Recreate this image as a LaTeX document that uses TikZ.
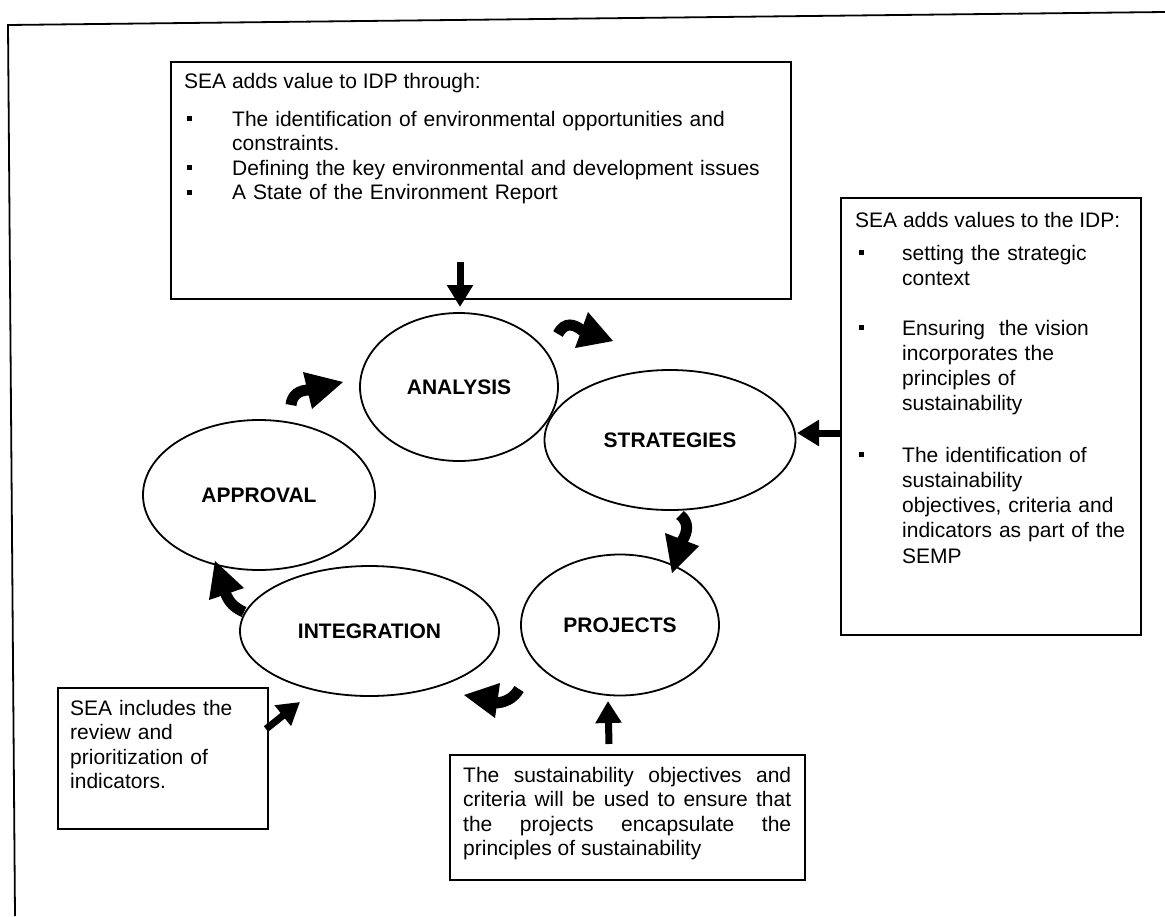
\documentclass[tikz,border=0pt]{standalone}
\usepackage{fontspec}
\setmainfont{Liberation Sans}
\usetikzlibrary{shapes.geometric,arrows.meta}
\begin{document}
\begin{tikzpicture}[x=1pt,y=-1pt,
  box/.style={draw, line width=1.8pt, rectangle, inner sep=0pt, anchor=north west},
  oval/.style={draw, line width=1.8pt, ellipse, inner sep=0pt, font=\fontsize{21}{25}\selectfont\bfseries},
  txt/.style={inner sep=0pt, anchor=base west, align=left, font=\fontsize{21}{24.5}\selectfont},
  txtr/.style={txt, font=\fontsize{21}{25.3}\selectfont},
  bul/.style={fill, rectangle, minimum size=5pt, inner sep=0pt},
  straightarrow/.style={line width=7pt, -{Triangle[length=22pt,width=25pt]}},
  tailline/.style={line width=11pt},
  headfill/.style={fill=black}]
\useasboundingbox (0,0) rectangle (1165,916);
% outer frame
\draw[line width=1.8pt] (1165,12) -- (8,25) -- (15,916);

% boxes
\node[box, minimum width=620pt, minimum height=237pt] (topbox) at (170,61) {};
\node[box, minimum width=300pt, minimum height=437pt] (rightbox) at (840,197) {};
\node[box, minimum width=210pt, minimum height=141pt] (leftbox) at (57,687) {};
\node[box, minimum width=355pt, minimum height=125pt] (bottombox) at (449,754) {};

% top box text
\node[txt] (toptitle) at (184,88) {SEA adds value to IDP through:};
\node[bul] (tb1) at (189,118) {};
\node[bul] (tb2) at (189,167) {};
\node[bul] (tb3) at (189,192) {};
\node[txt, text width=550pt] (ti1) at (232,126) {The identification of environmental opportunities and\\constraints.};
\node[txt, text width=550pt] (ti2) at (232,175) {Defining the key environmental and development issues};
\node[txt, text width=550pt] (ti3) at (232,199.5) {A State of the Environment Report};

% right box text
\node[txtr] (righttitle) at (855,227) {SEA adds values to the IDP:};
\node[bul] (rb1) at (861,252) {};
\node[bul] (rb2) at (861,327) {};
\node[bul] (rb3) at (861,454) {};
\node[txtr, text width=235pt] (ri1) at (902,260) {setting the strategic\\context};
\node[txtr, text width=235pt] (ri2) at (902,335) {Ensuring\ \ the vision\\incorporates the\\principles of\\sustainability};
\node[txtr, text width=235pt] (ri3) at (902,462) {The identification of\\sustainability\\objectives, criteria and\\indicators as part of the\\SEMP};

% left box text
\node[txt, text width=195pt] (lefttext) at (70,715) {SEA includes the\\review and\\prioritization of\\indicators.};

% bottom box text
\node[txt, text width=328pt, align=justify] (bottomtext) at (463,782) {The sustainability objectives and\linebreak criteria will be used to ensure that\linebreak the projects encapsulate the\linebreak principles of sustainability};

% ellipses
\node[oval, minimum width=198pt, minimum height=148pt] (analysis) at (459,387) {ANALYSIS};
\node[oval, minimum width=251pt, minimum height=140pt] (strategies) at (670,440) {STRATEGIES};
\node[oval, minimum width=232pt, minimum height=150pt] (approval) at (259,495) {APPROVAL};
\node[oval, minimum width=259pt, minimum height=130pt] (integration) at (369.5,631) {INTEGRATION};
\node[oval, minimum width=198pt, minimum height=141pt] (projects) at (620,625) {PROJECTS};

% straight arrows
\draw[straightarrow] (460,262) -- (460,307);
\draw[straightarrow] (840,433) -- (797,433);
\draw[straightarrow] (266,729) -- (300,702);
\draw[straightarrow] (609,744) -- (608,701);

% curved block arrows
% analysis -> strategies
\draw[tailline] (558,334) .. controls (565,321) and (574,324) .. (583,331);
\fill[headfill] (613,341) -- (588,312) -- (575,348) -- cycle;
% approval -> analysis
\draw[tailline] (291,405) .. controls (292,395) and (299,390) .. (309,390);
\fill[headfill] (343,382) -- (303,372) -- (312,409) -- cycle;
% strategies -> projects
\draw[tailline] (680,515) .. controls (689,522) and (688,532) .. (682,541);
\fill[headfill] (672,573) -- (665,533) -- (699,546) -- cycle;
% projects -> integration
\draw[tailline] (494,703) .. controls (505,703) and (514,698) .. (519,689);
\fill[headfill] (464,695) -- (500,683) -- (495,718) -- cycle;
% integration -> approval
\fill[headfill] (215,561) -- (209,600) -- (244,588) -- cycle;
\draw[tailline] (225,592) .. controls (229,603) and (235,608) .. (244,612);
\end{tikzpicture}
\end{document}
